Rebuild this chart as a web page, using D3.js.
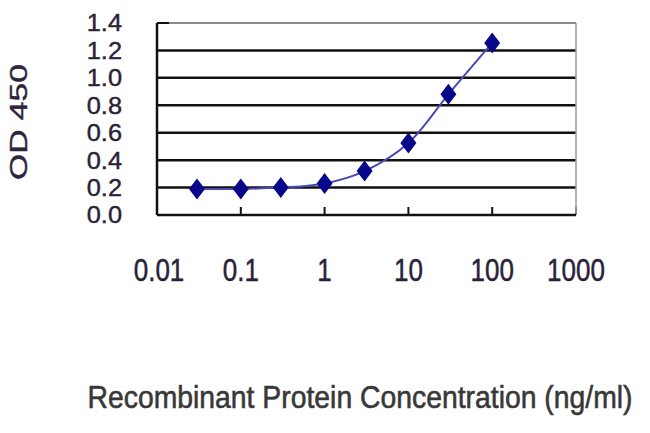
<!DOCTYPE html>
<html>
<head>
<meta charset="utf-8">
<script src="https://cdn.jsdelivr.net/npm/d3@7"></script>
<style>
  html, body { margin: 0; padding: 0; background: #fff; }
  text { font-family: "Liberation Sans", Arial, sans-serif; }
</style>
</head>
<body>
<svg id="chart" width="650" height="433"></svg>
<script>
// values
const concentrations = [0.03, 0.1, 0.3, 1, 3, 10, 30, 100]
const od450 = [0.19, 0.19, 0.2, 0.23, 0.32, 0.525, 0.88, 1.255]
const xTicks = [0.01, 0.1, 1, 10, 100, 1000]
const xTickLabels = ['0.01', '0.1', '1', '10', '100', '1000']
const yTicks = [0, 0.2, 0.4, 0.6, 0.8, 1.0, 1.2, 1.4]
const yTickLabels = ['0.0', '0.2', '0.4', '0.6', '0.8', '1.0', '1.2', '1.4']

const svg = d3.select('#chart')

const plotLeft = 157, plotRight = 576, plotTop = 23, plotBottom = 215

const x = d3.scaleLog().domain([0.01, 1000]).range([plotLeft, plotRight])
const y = d3.scaleLinear().domain([0, 1.4]).range([plotBottom, plotTop])

// horizontal gridlines
svg.append('g')
  .selectAll('line')
  .data(yTicks.filter(d => d > 0))
  .enter().append('line')
  .attr('x1', plotLeft)
  .attr('x2', plotRight)
  .attr('y1', d => y(d))
  .attr('y2', d => y(d))
  .attr('stroke', d => d === 1.4 ? '#666' : '#111')
  .attr('stroke-width', d => d === 1.4 ? 1.5 : 2.5)

// right border
svg.append('line')
  .attr('x1', plotRight).attr('x2', plotRight)
  .attr('y1', plotTop).attr('y2', plotBottom)
  .attr('stroke', '#999').attr('stroke-width', 1.5)

// small tick at top of y axis
svg.append('line')
  .attr('x1', plotLeft).attr('x2', plotLeft + 12)
  .attr('y1', plotTop).attr('y2', plotTop)
  .attr('stroke', '#111').attr('stroke-width', 2)

// x ticks pointing inside
svg.append('g')
  .selectAll('line')
  .data(xTicks.slice(1))
  .enter().append('line')
  .attr('x1', d => x(d))
  .attr('x2', d => x(d))
  .attr('y1', plotBottom)
  .attr('y2', plotBottom - 8)
  .attr('stroke', d => d === 1000 ? '#888' : '#111')
  .attr('stroke-width', 2)

// axis lines
svg.append('line')
  .attr('x1', plotLeft).attr('x2', plotLeft)
  .attr('y1', plotTop).attr('y2', plotBottom)
  .attr('stroke', '#111').attr('stroke-width', 2.5)

svg.append('line')
  .attr('x1', plotLeft).attr('x2', plotRight)
  .attr('y1', plotBottom).attr('y2', plotBottom)
  .attr('stroke', '#111').attr('stroke-width', 2.5)

// curve
const line = d3.line()
  .x((d, i) => x(concentrations[i]))
  .y(d => y(d))
  .curve(d3.curveCatmullRom.alpha(0.5))

svg.append('path')
  .datum(od450)
  .attr('d', line)
  .attr('fill', 'none')
  .attr('stroke', '#4a4ab4')
  .attr('stroke-width', 2)

// diamond markers
svg.append('g')
  .selectAll('path')
  .data(od450)
  .enter().append('path')
  .attr('transform', (d, i) => `translate(${x(concentrations[i])},${y(d)})`)
  .attr('d', 'M0,-10.5L8,0L0,10.5L-8,0Z')
  .attr('fill', '#07078a')

// y tick labels
svg.append('g')
  .selectAll('text')
  .data(yTicks)
  .enter().append('text')
  .attr('transform', d => `translate(122,${y(d)}) scale(1.08,1)`)
  .attr('text-anchor', 'end')
  .attr('dy', '0.36em')
  .attr('font-size', 23.5)
  .attr('fill', '#2a2238')
  .attr('stroke', '#2a2238')
  .attr('stroke-width', 0.4)
  .text((d, i) => yTickLabels[i])

// x tick labels
svg.append('g')
  .selectAll('text')
  .data(xTicks)
  .enter().append('text')
  .attr('transform', d => `translate(${x(d) + (d === 0.01 ? 2 : 0)},281) scale(1,1.18)`)
  .attr('text-anchor', 'middle')
  .attr('font-size', 26)
  .attr('fill', '#2a2238')
  .attr('stroke', '#2a2238')
  .attr('stroke-width', 0.4)
  .text((d, i) => xTickLabels[i])

// y axis title
svg.append('text')
  .attr('transform', 'translate(27,122) rotate(-90) scale(1.4,1)')
  .attr('text-anchor', 'middle')
  .attr('font-size', 24)
  .attr('fill', '#2e2440')
  .attr('stroke', '#2e2440')
  .attr('stroke-width', 0.4)
  .text('OD 450')

// x axis title
svg.append('text')
  .attr('transform', 'translate(360,408) scale(1,1.18)')
  .attr('text-anchor', 'middle')
  .attr('font-size', 27)
  .attr('textLength', 545)
  .attr('lengthAdjust', 'spacingAndGlyphs')
  .attr('fill', '#383838')
  .attr('stroke', '#383838')
  .attr('stroke-width', 0.5)
  .text('Recombinant Protein Concentration (ng/ml)')
</script>
</body>
</html>
